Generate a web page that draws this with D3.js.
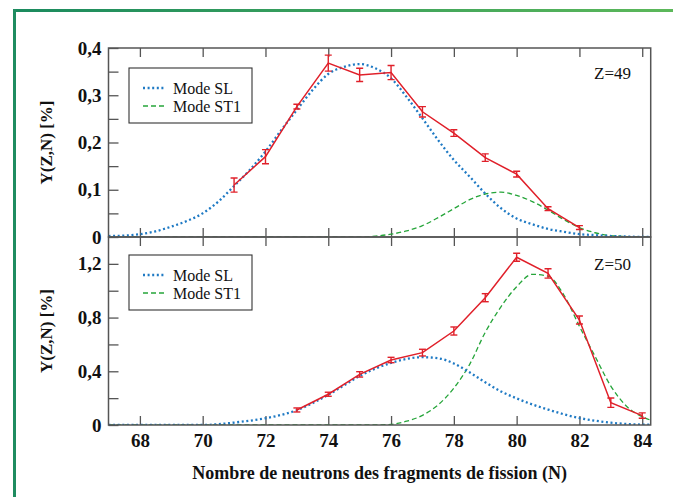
<!DOCTYPE html>
<html><head><meta charset="utf-8">
<script src="https://cdn.jsdelivr.net/npm/d3@7/dist/d3.min.js"></script>
<style>body{margin:0;background:#fff}svg{display:block}</style>
</head><body>
<svg id="c" width="673" height="497"></svg>
<script>
// ---------- data ----------
const N_obs49 = [71,72,73,74,75,76,77,78,79,80,81,82];
const Y_obs49 = [0.110,0.170,0.276,0.368,0.343,0.348,0.265,0.220,0.168,0.133,0.060,0.020];
const E_obs49 = [0.015,0.015,0.005,0.017,0.014,0.015,0.011,0.007,0.008,0.006,0.004,0.004];

const N_obs50 = [73,74,75,76,77,78,79,80,81,82,83,84];
const Y_obs50 = [0.112,0.229,0.377,0.484,0.539,0.700,0.948,1.249,1.129,0.782,0.166,0.070];
const E_obs50 = [0.015,0.015,0.02,0.02,0.025,0.03,0.03,0.03,0.035,0.03,0.035,0.02];

const N_model = [67,67.5,68,68.5,69,69.5,70,70.5,71,71.5,72,72.5,73,73.5,74,74.5,75,75.5,76,76.5,77,77.5,78,78.5,79,79.5,80,80.5,81,81.5,82,82.5,83,83.5,84,84.5];
const SL49  = [0.002,0.003,0.006,0.012,0.022,0.034,0.050,0.075,0.108,0.142,0.181,0.226,0.269,0.311,0.345,0.360,0.366,0.357,0.336,0.296,0.251,0.205,0.163,0.128,0.092,0.061,0.039,0.027,0.017,0.011,0.006,0.004,0.002,0.001,0.000,0.000];
const ST1_49 = [0,0,0,0,0,0,0,0,0,0,0,0,0,0,0,0,0,0.002,0.006,0.013,0.024,0.041,0.060,0.079,0.091,0.095,0.088,0.075,0.057,0.037,0.020,0.009,0.003,0.001,0.000,0.000];
const SL50  = [0,0,0,0,0,0,0,0.006,0.018,0.032,0.050,0.075,0.110,0.163,0.225,0.295,0.365,0.420,0.462,0.492,0.505,0.497,0.458,0.392,0.318,0.250,0.198,0.153,0.115,0.080,0.052,0.032,0.017,0.008,0.003,0.001];
const ST1_50 = [0,0,0,0,0,0,0,0,0,0,0,0,0,0,0,0,0,0,0.005,0.028,0.072,0.150,0.275,0.450,0.690,0.880,1.030,1.122,1.108,0.970,0.735,0.510,0.290,0.140,0.062,0.020];

const xTicks = [68,70,72,74,76,78,80,82,84];
const yTicks49 = [0,0.1,0.2,0.3,0.4];
const yMinor49 = [0.05,0.15,0.25,0.35];
const yTicks50 = [0,0.4,0.8,1.2];
const yMinor50 = [0.2,0.6,1.0];
const legendLabels = ["Mode SL","Mode ST1"];
const panelLabels = ["Z=49","Z=50"];
const xTitle = "Nombre de neutrons des fragments de fission (N)";
const yTitle = "Y(Z,N) [%]";

// ---------- drawing ----------
const svg = d3.select("#c");
const FONT = "'Liberation Serif','Times New Roman',serif";
const RED = "#e0202a", BLUE = "#1f7ac4", GREEN = "#26a53a", AX = "#555";

// green frame
const defs = svg.append("defs");
const gr = defs.append("linearGradient").attr("id","fr").attr("x1","0").attr("x2","1");
gr.append("stop").attr("offset","0").attr("stop-color","#1a8a5e");
gr.append("stop").attr("offset","1").attr("stop-color","#5cb85a");
svg.append("rect").attr("x",13).attr("y",9).attr("width",660).attr("height",3).attr("fill","url(#fr)");
svg.append("rect").attr("x",13).attr("y",9).attr("width",3).attr("height",488).attr("fill","#1f8c60");

const x = d3.scaleLinear().domain([67,84.27]).range([108.5,650.7]);
const panels = [
  {y: d3.scaleLinear().domain([0,0.4]).range([237,48]), ticks:yTicks49, minor:yMinor49,
   N:N_obs49, Y:Y_obs49, E:E_obs49, SL:SL49, ST:ST1_49, label:panelLabels[0], leg:[129,68], lab:73},
  {y: d3.scaleLinear().domain([0,1.4]).range([425,237]), ticks:yTicks50, minor:yMinor50,
   N:N_obs50, Y:Y_obs50, E:E_obs50, SL:SL50, ST:ST1_50, label:panelLabels[1], leg:[129,255], lab:264}
];
const fmt = d => d === 0 ? "0" : d3.format(".1f")(d).replace(".", ",");

panels.forEach((p,i) => {
  const y = p.y;
  const [y0, y1] = y.range(); // bottom, top
  const cid = "clip"+i;
  defs.append("clipPath").attr("id",cid).append("rect")
    .attr("x",x.range()[0]).attr("y",y1).attr("width",x.range()[1]-x.range()[0]).attr("height",y0-y1);

  // axes
  const gl = svg.append("g").attr("transform",`translate(${x.range()[0]},0)`)
    .call(d3.axisLeft(y).tickValues(p.ticks).tickSize(-10).tickPadding(7).tickFormat(fmt));
  gl.select(".domain").remove();
  gl.selectAll("line").attr("stroke",AX).attr("stroke-width",1.3);
  gl.selectAll("text").attr("font-family",FONT).attr("font-weight","bold").attr("font-size",19).attr("fill","#111");
  const gm = svg.append("g").attr("transform",`translate(${x.range()[0]},0)`)
    .call(d3.axisLeft(y).tickValues(p.minor).tickSize(-10).tickFormat(""));
  gm.select(".domain").remove();
  gm.selectAll("line").attr("stroke",AX).attr("stroke-width",1.3);

  const gt = svg.append("g").attr("transform",`translate(0,${y1})`)
    .call(d3.axisTop(x).tickValues(xTicks).tickSize(-9).tickFormat(""));
  gt.select(".domain").remove();
  gt.selectAll("line").attr("stroke",AX).attr("stroke-width",1.3);
  const gb = svg.append("g").attr("transform",`translate(0,${y0})`)
    .call(d3.axisBottom(x).tickValues(xTicks).tickSize(-9).tickPadding(9).tickFormat(i===1 ? d3.format("d") : ""));
  gb.select(".domain").remove();
  gb.selectAll("line").attr("stroke",AX).attr("stroke-width",1.3);
  gb.selectAll("text").attr("font-family",FONT).attr("font-weight","bold").attr("font-size",19).attr("fill","#111");

  // model curves
  const line = arr => d3.line().x((d,j)=>x(N_model[j])).y(d=>y(d)).curve(d3.curveMonotoneX)(arr);
  const gc = svg.append("g").attr("clip-path",`url(#${cid})`);
  gc.append("path").attr("d",line(p.ST)).attr("fill","none").attr("stroke",GREEN)
    .attr("stroke-width",1.3).attr("stroke-dasharray","5,3");
  gc.append("path").attr("d",line(p.SL)).attr("fill","none").attr("stroke",BLUE)
    .attr("stroke-width",2.3).attr("stroke-dasharray","2,2.6");

  // data
  const obs = p.N.map((n,j)=>({n, v:p.Y[j], e:p.E[j]}));
  gc.append("path").attr("d", d3.line().x(d=>x(d.n)).y(d=>y(d.v))(obs))
    .attr("fill","none").attr("stroke",RED).attr("stroke-width",1.5);
  const eb = gc.selectAll(".eb"+i).data(obs).enter().append("g");
  eb.append("line").attr("x1",d=>x(d.n)).attr("x2",d=>x(d.n)).attr("y1",d=>y(d.v-d.e)).attr("y2",d=>y(d.v+d.e))
    .attr("stroke",RED).attr("stroke-width",1.4);
  eb.append("line").attr("x1",d=>x(d.n)-3.5).attr("x2",d=>x(d.n)+3.5).attr("y1",d=>y(d.v-d.e)).attr("y2",d=>y(d.v-d.e))
    .attr("stroke",RED).attr("stroke-width",1.4);
  eb.append("line").attr("x1",d=>x(d.n)-3.5).attr("x2",d=>x(d.n)+3.5).attr("y1",d=>y(d.v+d.e)).attr("y2",d=>y(d.v+d.e))
    .attr("stroke",RED).attr("stroke-width",1.4);

  // frame
  svg.append("rect").attr("x",x.range()[0]).attr("y",y1).attr("width",x.range()[1]-x.range()[0]).attr("height",y0-y1)
    .attr("fill","none").attr("stroke",AX).attr("stroke-width",1.5);

  // legend
  const [lx, ly] = p.leg;
  const lg = svg.append("g");
  lg.append("rect").attr("x",lx).attr("y",ly).attr("width",123).attr("height",55)
    .attr("fill","#fff").attr("stroke","#333").attr("stroke-width",1.1);
  [[BLUE,"2,2.6",2.3],[GREEN,"5,3",1.3]].forEach((s,k) => {
    const yy = ly + 20 + k*18;
    lg.append("line").attr("x1",lx+14).attr("x2",lx+35).attr("y1",yy).attr("y2",yy)
      .attr("stroke",s[0]).attr("stroke-dasharray",s[1]).attr("stroke-width",s[2]);
    lg.append("text").attr("x",lx+44).attr("y",yy).attr("dy","0.35em").text(legendLabels[k])
      .attr("font-family",FONT).attr("font-size",16).attr("fill","#111");
  });

  svg.append("text").attr("x",631).attr("y",p.lab).attr("dy","0.35em").attr("text-anchor","end")
    .text(p.label).attr("font-family",FONT).attr("font-size",17).attr("fill","#111");

  svg.append("text").attr("transform",`translate(46,${(y0+y1)/2}) rotate(-90)`).attr("text-anchor","middle")
    .attr("dy","0.35em").text(yTitle).attr("font-family",FONT).attr("font-weight","bold").attr("font-size",17).attr("fill","#111");
});

svg.append("text").attr("x",(x.range()[0]+x.range()[1])/2).attr("y",473).attr("dy","0.35em")
  .attr("text-anchor","middle").text(xTitle)
  .attr("font-family",FONT).attr("font-weight","bold").attr("font-size",18).attr("fill","#111");
</script>
</body></html>
